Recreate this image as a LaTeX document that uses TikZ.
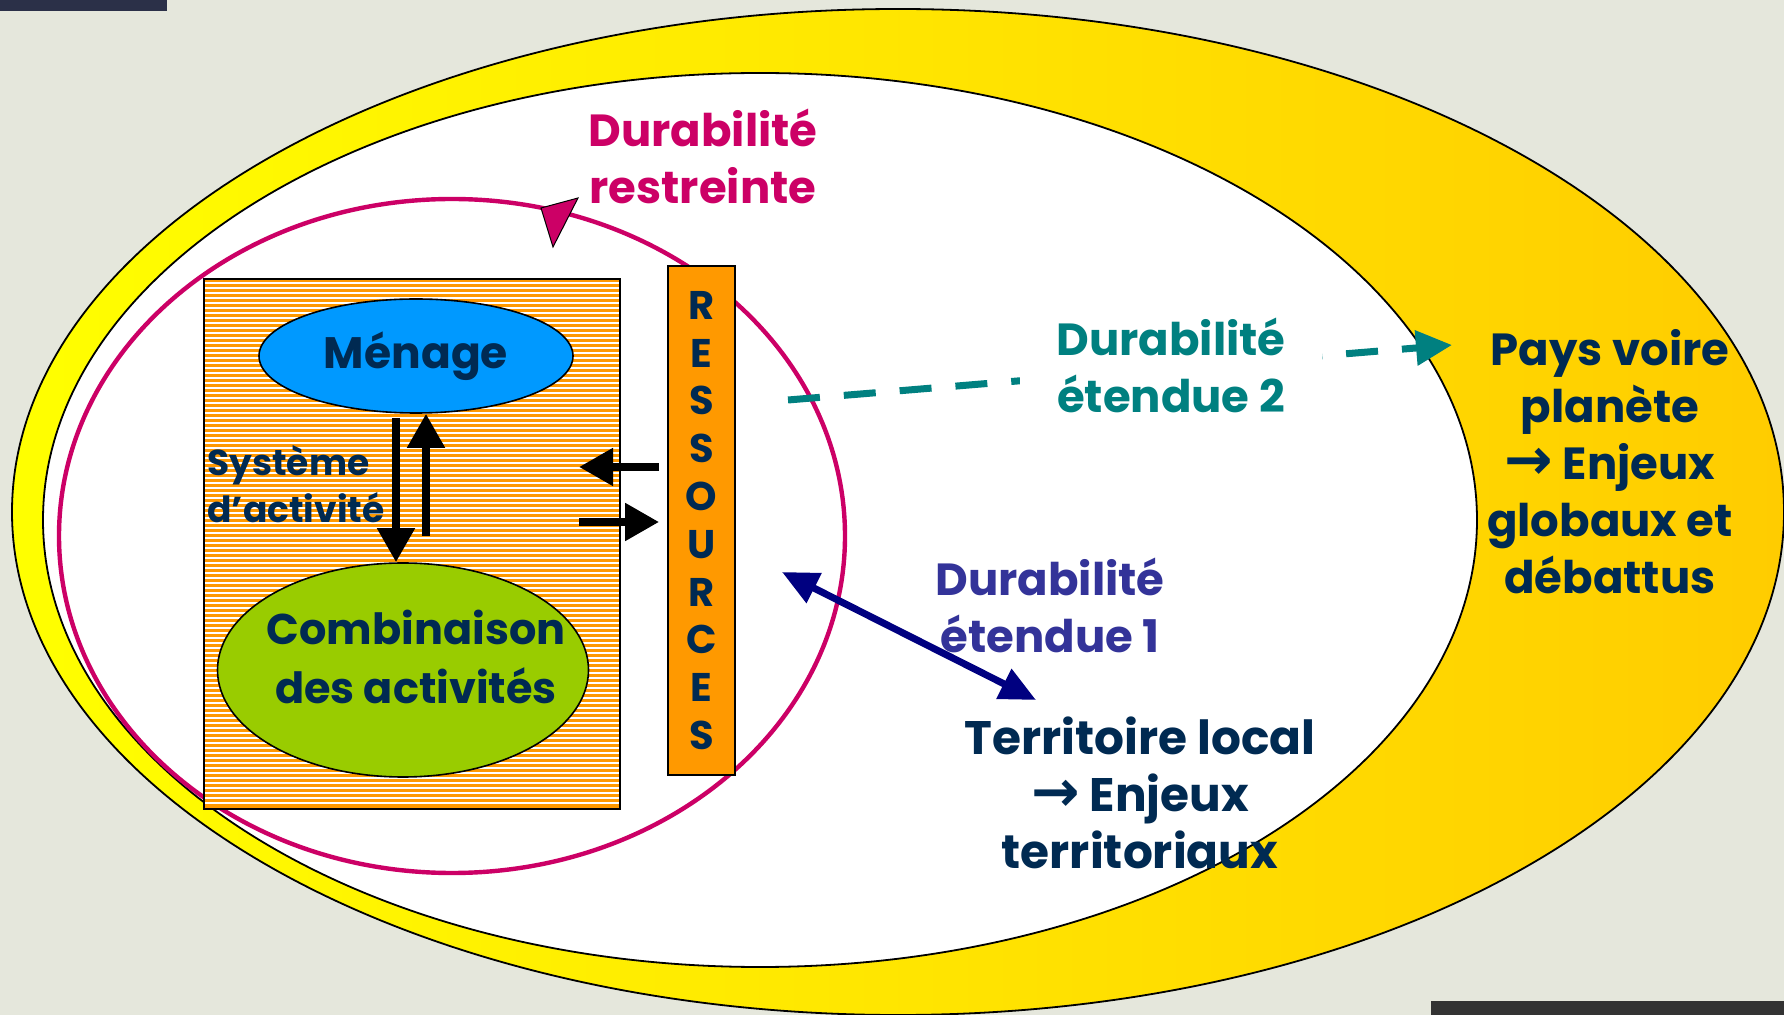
\documentclass[tikz,border=0pt]{standalone}
\usepackage{fontspec}
\setmainfont{Poppins}
\newfontfamily\arrowf{DejaVu Sans}
\usetikzlibrary{shapes.geometric,arrows.meta}
\definecolor{bgc}{HTML}{E5E7DC}
\definecolor{barone}{HTML}{2B3048}
\definecolor{bartwo}{HTML}{333333}
\definecolor{yelA}{HTML}{FFFF00}
\definecolor{yelB}{HTML}{FFCC00}
\definecolor{magc}{HTML}{CC0066}
\definecolor{orangec}{HTML}{FF9900}
\definecolor{menblue}{HTML}{0099FF}
\definecolor{combgreen}{HTML}{99CC00}
\definecolor{darktxt}{HTML}{002A52}
\definecolor{tealc}{HTML}{008080}
\definecolor{etone}{HTML}{333399}
\definecolor{navyc}{HTML}{000080}
\newcommand{\myarrow}{{\arrowf\bfseries\fontsize{29pt}{0pt}\selectfont →}}
\tikzset{
  blkarrow/.style={line width=4pt,-{Triangle[width=18pt,length=17pt]}},
  bigtext/.style={align=center,inner sep=0pt,font=\bfseries\fontsize{22.5pt}{28.5pt}\selectfont},
  blobtext/.style={align=center,inner sep=0pt,text=darktxt,font=\bfseries\fontsize{21.5pt}{29.5pt}\selectfont},
}
\begin{document}
\begin{tikzpicture}[x=0.5pt,y=-0.5pt]
\useasboundingbox (0,0) rectangle (1784,1015);
\fill[bgc] (0,0) rectangle (1784,1015);
\fill[barone] (0,0) rectangle (167,11);
\fill[bartwo] (1431,1001) rectangle (1784,1015);
% outer and inner ellipses
\shade[left color=yelA,right color=yelB] (898,512) ellipse [x radius=443pt,y radius=251.5pt];
\draw[line width=0.9pt] (898,512) ellipse [x radius=443pt,y radius=251.5pt];
\filldraw[fill=white,draw=black,line width=0.9pt] (760,520) ellipse [x radius=358.5pt,y radius=223.5pt];
% magenta ellipse
\draw[magc,line width=2.2pt] (452,536) ellipse [x radius=196.5pt,y radius=168.5pt];
\filldraw[fill=magc,draw=black,line width=0.5pt] (541,208) -- (578,198) -- (553,247) -- cycle;
% hatched box
\fill[orangec] (204,279) rectangle (620,809);
\foreach \y in {283,288,...,806} \draw[white,line width=0.6pt] (205,\y) -- (619,\y);
\node[draw=black,line width=1pt,minimum width=208pt,minimum height=265pt,inner sep=0pt] (sysbox) at (412,544) {};
% ressources
\node[draw=black,line width=0.9pt,fill=orangec,minimum width=33.5pt,minimum height=254.5pt,inner sep=0pt,
  text=darktxt,align=center,font=\bfseries\fontsize{20pt}{23.9pt}\selectfont] (res) at (701.5,520.5)
  {R\\E\\S\\S\\O\\U\\R\\C\\E\\S};
% ellipses
\node[ellipse,draw=black,line width=0.8pt,fill=menblue,minimum width=157pt,minimum height=57pt,inner sep=0pt,
  text=darktxt,font=\bfseries\fontsize{22pt}{29pt}\selectfont] (menage) at (416,356) {Ménage};
\node[ellipse,draw=black,line width=0.8pt,fill=combgreen,minimum width=185.5pt,minimum height=107pt,inner sep=0pt] (comb) at (403,670) {};
\node[blobtext] (combtxt) at (416,657) {Combinaison\\des activités};
\node[anchor=west,align=left,inner sep=0pt,text=darktxt,font=\bfseries\fontsize{18pt}{23.75pt}\selectfont] (sys) at (207,484) {Système\\d’activité};
% vertical arrows
\draw[blkarrow] ([xshift=-10pt,yshift=-2pt]menage.south) -- ([xshift=-3.5pt]comb.north);
\draw[blkarrow] ([xshift=11.5pt,yshift=13pt]comb.north) -- ([xshift=5pt]menage.south);
% horizontal arrows
\draw[blkarrow] ([xshift=-4pt,yshift=26.75pt]res.west) -- ([xshift=-21pt,yshift=38.5pt]sysbox.east);
\draw[blkarrow] ([xshift=-21pt,yshift=11pt]sysbox.east) -- ([xshift=-4pt,yshift=-0.75pt]res.west);
% durabilite restreinte
\node[bigtext,text=magc] (restr) at (703,156) {Durabilité\\restreinte};
% teal dashed arrow
\coordinate (tealA) at (788,400);
\coordinate (tealB) at (1452,345);
\draw[tealc,line width=3.5pt,dash pattern=on 16pt off 12pt,-{Triangle[width=17pt,length=18pt]}] (tealA) -- (tealB);
\node[bigtext,text=tealc,fill=white,inner xsep=18pt,inner ysep=1pt] (et2) at (1171,365) {Durabilité\\étendue 2};
% navy double arrow
\coordinate (navA) at (782,572);
\coordinate (navB) at (1036,700);
\draw[navyc,line width=3.5pt,{Triangle[width=16pt,length=18pt]}-{Triangle[width=16pt,length=18pt]}] (navA) -- (navB);
\node[bigtext,text=etone] (et1) at (1050,605) {Durabilité\\étendue 1};
% territoire
\node[bigtext,text=darktxt,font=\bfseries\fontsize{23.5pt}{28.5pt}\selectfont] (terr) at (1140,793) {Territoire local\\\myarrow\ Enjeux\\territoriaux};
% pays
\node[bigtext,text=darktxt] (pays) at (1610,462) {Pays voire\\planète\\\myarrow\ Enjeux\\globaux et\\débattus};
\end{tikzpicture}
\end{document}
